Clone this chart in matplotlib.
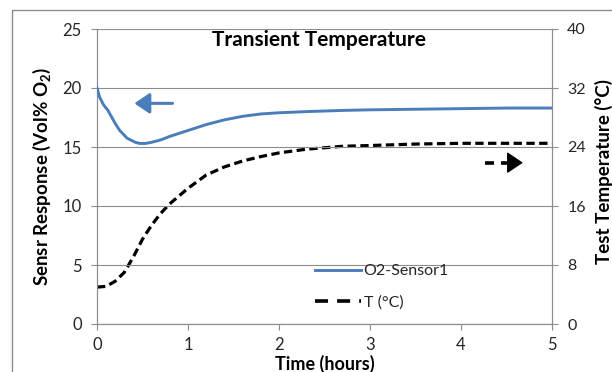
import matplotlib
matplotlib.use("Agg")
import matplotlib.pyplot as plt
from matplotlib.patches import Rectangle
from matplotlib.lines import Line2D

plt.rcParams['font.family'] = ['Lato', 'DejaVu Sans']
plt.rcParams['mathtext.fontset'] = 'custom'
plt.rcParams['mathtext.rm'] = 'Lato:bold'
plt.rcParams['mathtext.bf'] = 'Lato:bold'
plt.rcParams['lines.scale_dashes'] = False

# O2 sensor response (Vol% O2) over time
o2_time_h = [0, 0.03, 0.07, 0.12, 0.2, 0.25, 0.33, 0.42, 0.47, 0.53, 0.6, 0.7,
             0.8, 1.0, 1.2, 1.4, 1.6, 1.8, 2.0, 2.3, 2.7, 3.0, 3.5, 4.0, 4.5, 5.0]
o2_vol = [20.0, 19.2, 18.6, 18.1, 17.0, 16.4, 15.75, 15.4, 15.3, 15.3, 15.4, 15.6,
          15.9, 16.4, 16.9, 17.3, 17.6, 17.8, 17.9, 18.0, 18.1, 18.15, 18.2,
          18.25, 18.3, 18.3]

# Test temperature (°C) over time
temp_time_h = [0, 0.1, 0.2, 0.3, 0.4, 0.5, 0.6, 0.7, 0.8, 1.0, 1.2, 1.4,
               1.6, 1.8, 2.0, 2.3, 2.7, 3.0, 3.5, 4.0, 4.5, 5.0]
temp_c = [5.0, 5.1, 5.8, 7.0, 9.1, 11.5, 13.4, 15.0, 16.3, 18.4, 20.2, 21.3,
          22.1, 22.7, 23.2, 23.7, 24.1, 24.2, 24.4, 24.5, 24.5, 24.5]

x_ticks = [0, 1, 2, 3, 4, 5]
left_ticks = [0, 5, 10, 15, 20, 25]
right_ticks = [0, 8, 16, 24, 32, 40]

W, H = 612, 372
BLUE = '#4A7EBB'
GRID = '#8C8C8C'
TXT = '#262626'
T_DASH = (0, (6.0, 3.2))

fig = plt.figure(figsize=(W / 100, H / 100), dpi=100)
fig.patch.set_facecolor('white')

# outer chart frame
fig.patches.append(Rectangle((12 / W, -0.1), 1.2, (H - 10) / H + 0.1,
                             transform=fig.transFigure, fill=False,
                             edgecolor=GRID, linewidth=1.0))

ax = fig.add_axes([97 / W, (H - 324) / H, 455 / W, 295 / H])
ax2 = ax.twinx()

ax.plot(o2_time_h, o2_vol, color=BLUE, linewidth=2.1, zorder=3,
        solid_joinstyle='round')
ax2.plot(temp_time_h, temp_c, color='black', linewidth=2.3,
         linestyle=T_DASH, zorder=3)

ax.set_xlim(0, 5)
ax.set_ylim(0, 25)
ax2.set_ylim(0, 40)
ax.set_xticks(x_ticks)
ax.set_yticks(left_ticks)
ax2.set_yticks(right_ticks)

ax.grid(axis='y', color=GRID, linewidth=0.8)
ax.set_axisbelow(True)

for a in (ax, ax2):
    a.spines['top'].set_visible(False)
    for s in ('left', 'right', 'bottom'):
        a.spines[s].set_color(GRID)
        a.spines[s].set_linewidth(0.8)
    a.tick_params(colors=GRID, labelcolor=TXT, length=4, width=0.8,
                  labelsize=12)
ax.tick_params(axis='x', pad=5)
ax.tick_params(axis='y', pad=7)
ax2.tick_params(axis='y', pad=7, labelsize=11.5)

ax.set_zorder(ax2.get_zorder() + 1)
ax.patch.set_visible(False)

# direction arrows pointing to each curve's axis
ax.annotate('', xy=(0.41, 18.7), xytext=(0.83, 18.7),
            arrowprops=dict(arrowstyle='-|>,head_length=0.4,head_width=0.27',
                            color=BLUE, lw=2.2, mutation_scale=23,
                            shrinkA=0, shrinkB=0))
ax.plot([4.264, 4.53], [13.67, 13.67], color='black', lw=2.6,
        linestyle=(0, (6.5, 5.0)), solid_capstyle='butt')
ax.annotate('', xy=(4.68, 13.67), xytext=(4.535, 13.67),
            arrowprops=dict(arrowstyle='-|>,head_length=0.4,head_width=0.27',
                            color='black', lw=1.0, mutation_scale=25,
                            shrinkA=0, shrinkB=0))

# legend
handles = [Line2D([], [], color=BLUE, linewidth=2.1),
           Line2D([], [], color='black', linewidth=2.6,
                  linestyle=(0, (9.4, 6.5)))]
ax.legend(handles, ['O2-Sensor1', 'T (°C)'], frameon=False,
          loc='upper left', bbox_to_anchor=(218 / 455, 60 / 295),
          borderaxespad=0, borderpad=0,
          fontsize=11.5, handlelength=2.85, labelspacing=1.05,
          handletextpad=0.2, labelcolor=TXT)

fig.text(319 / W, 1 - 40 / H, 'Transient Temperature', ha='center',
         va='center', fontsize=15, fontweight='bold', color='black')
fig.text(325 / W, 1 - 364 / H, 'Time (hours)', ha='center', va='center',
         fontsize=13, fontweight='bold', color='black')
fig.text(42 / W, 1 - 176 / H, r'Sensr Response (Vol% O$_2$)', ha='center',
         va='center', rotation=90, fontsize=13.5, fontweight='bold',
         color='black')
fig.text(604 / W, 1 - 172 / H, 'Test Temperature (°C)', ha='center',
         va='center', rotation=90, fontsize=13.5, fontweight='bold',
         color='black')

fig.savefig('out.png', dpi=100)
